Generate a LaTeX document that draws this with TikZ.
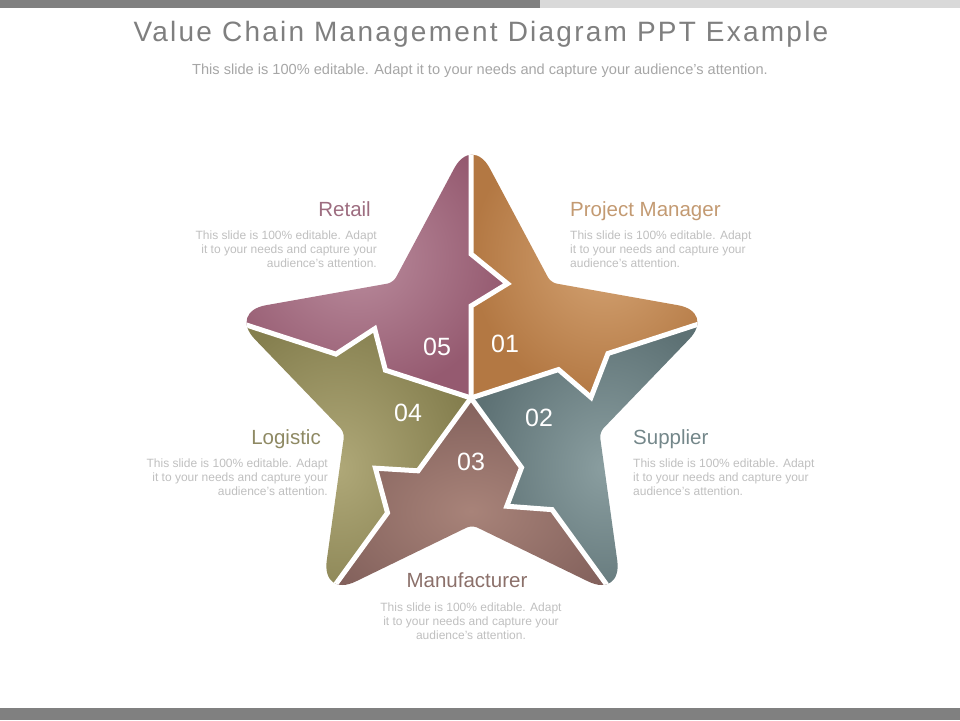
\documentclass[tikz,border=0pt]{standalone}
\usepackage{fontspec}
\setmainfont{Liberation Sans}
\newfontfamily\headfont[LetterSpace=8]{Liberation Sans}

\definecolor{barDark}{HTML}{808080}
\definecolor{barLight}{HTML}{D9D9D9}
\definecolor{titleGray}{HTML}{7F7F7F}
\definecolor{subGray}{HTML}{A6A6A6}
\definecolor{noteGray}{HTML}{BFBFBF}
\definecolor{pmIn}{HTML}{D4A373}
\definecolor{pmOut}{HTML}{B37843}
\definecolor{supIn}{HTML}{8A9EA0}
\definecolor{supOut}{HTML}{5D7174}
\definecolor{manIn}{HTML}{A88379}
\definecolor{manOut}{HTML}{83615C}
\definecolor{logIn}{HTML}{AFA878}
\definecolor{logOut}{HTML}{857F4F}
\definecolor{retIn}{HTML}{BA8C9D}
\definecolor{retOut}{HTML}{955A70}
\definecolor{pmText}{HTML}{C39A72}
\definecolor{supText}{HTML}{74878A}
\definecolor{manText}{HTML}{8B706A}
\definecolor{logText}{HTML}{8E8963}
\definecolor{retText}{HTML}{9D6D80}

\begin{document}
\begin{tikzpicture}[x=1pt, y=1pt,
  headline/.style={font=\fontsize{20.5}{24}\selectfont, text=#1, inner sep=0pt},
  blurb/.style={font=\fontsize{12}{14}\selectfont, text=noteGray, inner sep=0pt},
  num/.style={font=\fontsize{25}{28}\selectfont, text=white, inner sep=0pt},
  gap/.style={draw=white, line width=5pt},
  piece/.style 2 args={inner color=#1, outer color=#2},
  tipround/.style={rounded corners=38pt},
  innerround/.style={rounded corners=6pt}]

  \useasboundingbox (0,0) rectangle (960,720);
  \fill[barDark] (0,712) rectangle (540,720);
  \fill[barLight] (540,712) rectangle (960,720);
  \fill[barDark] (0,0) rectangle (960,12);

  \node[font={\headfont\fontsize{28}{32}\selectfont}, text=titleGray, anchor=base] (title) at (481,678)
    {Value Chain Management Diagram PPT Example};
  \node[font=\fontsize{14.6}{16}\selectfont, text=subGray, anchor=base] (subtitle) at (480,645)
    {This slide is 100\% editable. Adapt it to your needs and capture your audience's attention.};

  \begin{scope}
    \clip[shift={(472,329)}] (39.4,182.2) [innerround] -- (54:134) [tipround] -- (18:256) [innerround]
      -- (-18:134) [tipround] -- (-54:256) [innerround] -- (-90:134) [tipround] -- (-126:256)
      [innerround] -- (-162:134) [tipround] -- (162:256) [innerround] -- (126:134) [tipround]
      -- (90:256) [innerround] -- cycle;
    \begin{scope}[shift={(471,322)}]
      \shade[piece={pmIn}{pmOut}] (0,0) -- (90:92) -- (72.3:120) -- (90:144) -- (90:280) -- (54:160)
        -- (18:280) -- (18:144) -- (0.3:120) -- (18:92) -- cycle;
      \shade[piece={supIn}{supOut}] (0,0) -- (18:92) -- (0.3:120) -- (18:144) -- (18:280) -- (-18:160)
        -- (-54:280) -- (-54:138) -- (-71.7:114) -- (-54:86) -- cycle;
      \shade[piece={manIn}{manOut}] (0,0) -- (-54:86) -- (-71.7:114) -- (-54:138) -- (-54:280) -- (-90:160)
        -- (-126:280) -- (-126:142) -- (-143.7:118.6) -- (-126:90) -- cycle;
      \shade[piece={logIn}{logOut}] (0,0) -- (234:90) -- (216.3:118.6) -- (234:142) -- (234:280) -- (198:160)
        -- (162:280) -- (162:142) -- (144.3:118.6) -- (162:90) -- cycle;
      \shade[piece={retIn}{retOut}] (0,0) -- (162:90) -- (144.3:118.6) -- (162:142) -- (162:280) -- (126:160)
        -- (90:280) -- (90:144) -- (72.3:120) -- (90:92) -- cycle;
      % white gaps between the pieces
      \draw[gap] (0,0) -- (90:92) -- (72.3:120) -- (90:144) -- (90:300);
      \draw[gap] (0,0) -- (18:92) -- (0.3:120) -- (18:144) -- (18:300);
      \draw[gap] (0,0) -- (-54:86) -- (-71.7:114) -- (-54:138) -- (-54:300);
      \draw[gap] (0,0) -- (-126:90) -- (-143.7:118.6) -- (-126:142) -- (-126:300);
      \draw[gap] (0,0) -- (162:90) -- (144.3:118.6) -- (162:142) -- (162:300);
    \end{scope}
  \end{scope}

  \node[num] (n01) at (505,376) {01};
  \node[num] (n02) at (539,302) {02};
  \node[num] (n03) at (471,258) {03};
  \node[num] (n04) at (408,307) {04};
  \node[num] (n05) at (437,373) {05};

  \node[headline=pmText, anchor=base west] (pm) at (570,503) {Project Manager};
  \node[blurb, align=left, anchor=north west] (pmnote) at (570,489)
    {This slide is 100\% editable. Adapt\\it to your needs and capture your\\audience's attention.};
  \node[headline=supText, anchor=base west] (supplier) at (633,275) {Supplier};
  \node[blurb, align=left, anchor=north west] (suppliernote) at (633,261)
    {This slide is 100\% editable. Adapt\\it to your needs and capture your\\audience's attention.};
  \node[headline=manText, anchor=base] (manufacturer) at (467,132) {Manufacturer};
  \node[blurb, align=center, anchor=north] (manufacturernote) at (471,117)
    {This slide is 100\% editable. Adapt\\it to your needs and capture your\\audience's attention.};
  \node[headline=logText, anchor=base east] (logistic) at (321,275) {Logistic};
  \node[blurb, align=right, anchor=north east] (logisticnote) at (328,261)
    {This slide is 100\% editable. Adapt\\it to your needs and capture your\\audience's attention.};
  \node[headline=retText, anchor=base east] (retail) at (371,503) {Retail};
  \node[blurb, align=right, anchor=north east] (retailnote) at (377,489)
    {This slide is 100\% editable. Adapt\\it to your needs and capture your\\audience's attention.};
\end{tikzpicture}
\end{document}
